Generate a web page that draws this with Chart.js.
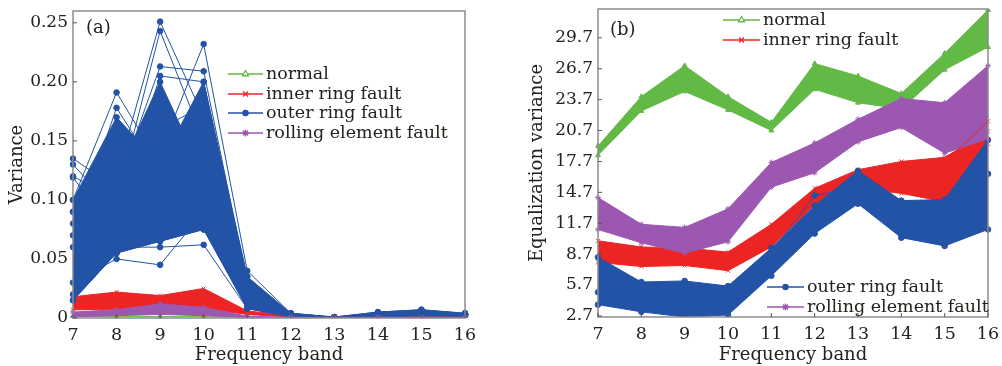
<!DOCTYPE html>
<html>
<head>
<meta charset="utf-8">
<script src="https://cdn.jsdelivr.net/npm/chart.js@4.4.0/dist/chart.umd.min.js"></script>
<style>
  body { margin: 0; background: #fff; }
  #wrap { position: relative; width: 1002px; height: 366px; }
  canvas { position: absolute; top: 0; }
  #chartA { left: 0; width: 500px; height: 366px; }
  #chartB { left: 500px; width: 502px; height: 366px; }
</style>
</head>
<body>
<div id="wrap">
  <canvas id="chartA" width="500" height="366"></canvas>
  <canvas id="chartB" width="502" height="366"></canvas>
</div>
<script>
// frequency bands (x axis)
const bands = ['7', '8', '9', '10', '11', '12', '13', '14', '15', '16'];
const classNames = ['normal', 'inner ring fault', 'outer ring fault', 'rolling element fault'];
const classColors = ['#63b946', '#ec2424', '#2353a6', '#9c57b1'];
const classMarks = ['triangle', 'crossRot', 'circle', 'star'];

// (a) variance: band envelopes
const aNormal = [0.0012, 0.0012, 0.0012, 0.0012, 0.0005, 0.0004, 0.0003, 0.0004, 0.0004, 0.0004];
const aInnerLo = [0.007, 0.007, 0.009, 0.008, 0.003, 0.0008, 0.0003, 0.0008, 0.0008, 0.0008];
const aInnerHi = [0.018, 0.022, 0.019, 0.025, 0.006, 0.002, 0.0005, 0.0012, 0.0012, 0.0012];
const aOuterLo = [0.015, 0.055, 0.065, 0.075, 0.008, 0.001, 0.0004, 0.001, 0.002, 0.0015];
const aOuterHiA = [0.09, 0.12, 0.20, 0.12, 0.03, 0.004, 0.0008, 0.005, 0.007, 0.004];
const aOuterHiB = [0.10, 0.17, 0.13, 0.20, 0.035, 0.004, 0.0008, 0.005, 0.007, 0.004];
const aRollLo = [0.001, 0.002, 0.003, 0.002, 0.0005, 0.0003, 0.0003, 0.0003, 0.0003, 0.0003];
const aRollHi = [0.005, 0.007, 0.012, 0.009, 0.0015, 0.0006, 0.0005, 0.0006, 0.0006, 0.0006];
// (a) single outer ring traces that stand out of the band
const aOuterTraces = [
  [0.09, 0.12, 0.251, 0.17, 0.03, 0.003, 0.0005, 0.004, 0.006, 0.003],
  [0.12, 0.10, 0.243, 0.15, 0.025, 0.003, 0.0005, 0.004, 0.006, 0.003],
  [0.10, 0.191, 0.13, 0.16, 0.03, 0.003, 0.0005, 0.004, 0.005, 0.003],
  [0.07, 0.178, 0.12, 0.14, 0.02, 0.002, 0.0005, 0.003, 0.005, 0.003],
  [0.08, 0.10, 0.14, 0.232, 0.04, 0.004, 0.0005, 0.004, 0.006, 0.003],
  [0.135, 0.11, 0.213, 0.209, 0.03, 0.003, 0.0005, 0.004, 0.006, 0.003],
  [0.13, 0.09, 0.205, 0.20, 0.03, 0.003, 0.0005, 0.004, 0.006, 0.003],
  [0.119, 0.07, 0.16, 0.18, 0.02, 0.002, 0.0005, 0.003, 0.005, 0.003],
  [0.03, 0.05, 0.045, 0.09, 0.01, 0.002, 0.0005, 0.002, 0.004, 0.002],
  [0.02, 0.06, 0.06, 0.062, 0.008, 0.002, 0.0005, 0.002, 0.003, 0.002],
  [0.06, 0.15, 0.11, 0.19, 0.035, 0.003, 0.0005, 0.004, 0.006, 0.003]
];
const yTicksA = [0, 0.05, 0.10, 0.15, 0.20, 0.25];

// (b) equalization variance: band envelopes
const bNormalLo = [18.3, 22.6, 24.5, 22.7, 20.7, 24.7, 23.4, 22.8, 26.6, 28.8];
const bNormalHi = [19.2, 24.0, 27.0, 24.0, 21.5, 27.2, 26.0, 24.3, 28.2, 32.4];
const bInnerLo = [7.9, 7.5, 7.6, 7.1, 9.4, 13.5, 15.1, 14.6, 13.8, 19.4];
const bInnerHi = [10.0, 9.4, 9.3, 8.9, 11.6, 15.1, 16.9, 17.7, 18.1, 20.6];
const bOuterLo = [3.8, 3.1, 2.6, 2.8, 6.6, 10.7, 13.6, 10.3, 9.5, 11.1];
const bOuterHi = [8.4, 6.0, 6.1, 5.6, 9.3, 13.4, 16.8, 13.9, 14.0, 19.8];
const bRollLo = [11.1, 9.8, 8.8, 9.9, 15.2, 16.6, 19.6, 21.0, 18.5, 19.9];
const bRollHi = [14.2, 11.6, 11.3, 13.1, 17.6, 19.5, 21.8, 23.8, 23.4, 27.0];
const bOuterTrace = [5.0, 4.3, 4.0, 3.8, 8.9, 14.4, 15.2, 12.8, 12.2, 16.5];
const bInnerTrace = [null, null, null, null, null, null, null, null, 17.6, 21.6];
const yTicksB = [2.7, 5.7, 8.7, 11.7, 14.7, 17.7, 20.7, 23.7, 26.7, 29.7];

const serif = '"DejaVu Serif", "Liberation Serif", serif';
Chart.defaults.font.family = serif;
Chart.defaults.color = '#24221d';

function lineSet(data, k, order, extra) {
  return Object.assign({
    data: data,
    borderColor: classColors[k],
    backgroundColor: classColors[k],
    pointBackgroundColor: classColors[k],
    pointBorderColor: classColors[k],
    pointStyle: classMarks[k],
    pointRadius: 2.8,
    pointBorderWidth: 1,
    borderWidth: 1,
    tension: 0,
    fill: false,
    order: order
  }, extra || {});
}

// lower envelope + upper envelope filled down to it
function bandSets(lo, hi, k, order) {
  return [lineSet(lo, k, order), lineSet(hi, k, order, { fill: '-1' })];
}

const framePlugin = {
  id: 'frame',
  afterDatasetsDraw(chart, args, opts) {
    const { ctx, chartArea: a, scales } = chart;
    ctx.save();
    ctx.strokeStyle = '#8c8c8c';
    ctx.lineWidth = 1.5;
    ctx.strokeRect(a.left, a.top, a.right - a.left, a.bottom - a.top);
    ctx.lineWidth = 1;
    ctx.strokeStyle = '#555';
    ctx.beginPath();
    scales.x.ticks.forEach((t, i) => {
      const px = scales.x.getPixelForTick(i);
      ctx.moveTo(px, a.bottom); ctx.lineTo(px, a.bottom - 4);
    });
    scales.y.ticks.forEach((t, i) => {
      const py = scales.y.getPixelForTick(i);
      ctx.moveTo(a.left, py); ctx.lineTo(a.left + 4, py);
    });
    ctx.stroke();
    ctx.fillStyle = '#24221d';
    ctx.font = '18px ' + serif;
    ctx.textBaseline = 'middle';
    ctx.fillText(opts.tag, opts.x, opts.y);
    ctx.restore();
  }
};

const keyPlugin = {
  id: 'key',
  afterDraw(chart, args, opts) {
    const ctx = chart.ctx;
    ctx.save();
    ctx.font = '17.5px ' + serif;
    ctx.textBaseline = 'middle';
    opts.items.forEach(it => {
      const col = classColors[it.k];
      ctx.strokeStyle = col;
      ctx.lineWidth = 1.3;
      ctx.beginPath();
      ctx.moveTo(it.x, it.y);
      ctx.lineTo(it.x + opts.len, it.y);
      ctx.stroke();
      ctx.fillStyle = it.k === 0 ? '#fff' : col;
      Chart.helpers.drawPoint(ctx, { pointStyle: classMarks[it.k], radius: it.k === 2 ? 2.6 : 3.5, borderWidth: 1.2, rotation: 0 },
        it.x + opts.len / 2, it.y);
      ctx.fillStyle = '#24221d';
      ctx.fillText(classNames[it.k], it.x + opts.len + 3, it.y);
    });
    ctx.restore();
  }
};

function axes(yTicks, yMin, yMax, yTitle, yWidth, xHeight, titlePad, fmt) {
  return {
    x: {
      type: 'category',
      offset: false,
      grid: { display: false, drawTicks: false },
      border: { display: false },
      ticks: { font: { size: 17.5 }, padding: 7, maxRotation: 0, autoSkip: false },
      title: { display: true, text: 'Frequency band', font: { size: 18 }, padding: { top: 0, bottom: 0 } },
      afterFit(s) { s.height = xHeight; s.paddingLeft = 0; s.paddingRight = 0; }
    },
    y: {
      min: yMin,
      max: yMax,
      grid: { display: false, drawTicks: false },
      border: { display: false },
      ticks: { font: { size: 17 }, padding: 5, callback: fmt },
      afterBuildTicks(s) { s.ticks = yTicks.map(v => ({ value: v })); },
      title: { display: true, text: yTitle, font: { size: 18 }, padding: { top: titlePad, bottom: 0 } },
      afterFit(s) { s.width = yWidth; s.paddingTop = 0; s.paddingBottom = 0; }
    }
  };
}

// panel (a)
const dataA = [
  lineSet(aNormal, 0, 4),
  ...bandSets(aInnerLo, aInnerHi, 1, 3),
  ...bandSets(aOuterLo, aOuterHiA, 2, 2),
  ...bandSets(aOuterLo, aOuterHiB, 2, 2),
  ...aOuterTraces.map(t => lineSet(t, 2, 2)),
  ...bandSets(aRollLo, aRollHi, 3, 1)
];

new Chart(document.getElementById('chartA'), {
  type: 'line',
  data: { labels: bands, datasets: dataA },
  options: {
    responsive: false,
    animation: false,
    events: [],
    layout: { padding: { left: 0, right: 35, top: 11, bottom: 0 } },
    scales: axes(yTicksA, 0, 0.26, 'Variance', 73, 48, 7, v => (v === 0 ? '0' : v.toFixed(2))),
    plugins: {
      legend: { display: false },
      tooltip: { enabled: false },
      frame: { tag: '(a)', x: 86, y: 28 },
      key: {
        len: 35,
        items: [
          { k: 0, x: 228, y: 74 },
          { k: 1, x: 228, y: 94 },
          { k: 2, x: 228, y: 113 },
          { k: 3, x: 228, y: 133 }
        ]
      }
    }
  },
  plugins: [framePlugin, keyPlugin]
});

// panel (b)
const dataB = [
  ...bandSets(bNormalLo, bNormalHi, 0, 4),
  ...bandSets(bInnerLo, bInnerHi, 1, 3),
  lineSet(bInnerTrace, 1, 0),
  ...bandSets(bOuterLo, bOuterHi, 2, 2),
  lineSet(bOuterTrace, 2, 2),
  ...bandSets(bRollLo, bRollHi, 3, 1)
];

new Chart(document.getElementById('chartB'), {
  type: 'line',
  data: { labels: bands, datasets: dataB },
  options: {
    responsive: false,
    animation: false,
    events: [],
    layout: { padding: { left: 0, right: 14, top: 9, bottom: 0 } },
    scales: axes(yTicksB, 2.6, 32.5, 'Equalization variance', 98, 49, 27, v => v.toFixed(1)),
    plugins: {
      legend: { display: false },
      tooltip: { enabled: false },
      frame: { tag: '(b)', x: 110, y: 30 },
      key: {
        len: 37,
        items: [
          { k: 0, x: 223, y: 20 },
          { k: 1, x: 223, y: 40 },
          { k: 2, x: 267, y: 287 },
          { k: 3, x: 267, y: 307 }
        ]
      }
    }
  },
  plugins: [framePlugin, keyPlugin]
});
</script>
</body>
</html>
